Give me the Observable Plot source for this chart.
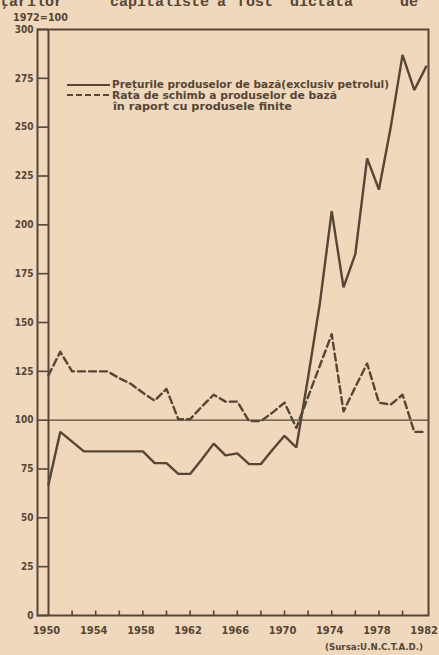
<!DOCTYPE html>
<html><head><meta charset="utf-8">
<script src="https://cdn.jsdelivr.net/npm/d3@7"></script>
<script src="https://cdn.jsdelivr.net/npm/@observablehq/plot@0.6"></script>
<style>
html,body{margin:0;padding:0;background:#efd8bb;}
#wrap{position:relative;width:439px;height:655px;overflow:hidden;background:#efd8bb;}
#wrap svg{display:block;}
#overlay{position:absolute;left:0;top:0;pointer-events:none;}
</style></head><body><div id="wrap"></div>
<script>
// ---- data ----
const years = [1950,1951,1952,1953,1954,1955,1956,1957,1958,1959,1960,1961,1962,1963,1964,1965,1966,1967,1968,1969,1970,1971,1972,1973,1974,1975,1976,1977,1978,1979,1980,1981,1982];
const preturi = [67,94,89,84,84,84,84,84,84,78,78,72.5,72.5,80,88,82,83,77.5,77.5,85,92,86,122,160,207,168,185,234,218,250,287,269,281];
const rata = [123,135,125,125,125,125,121.5,118.5,114,110,116,100.5,100.5,107,113,109.5,109.5,99.5,99.5,104,109,96,112,128,144,104.5,117,129,109,108,113,94,94];
const yTicks = [0,25,50,75,100,125,150,175,200,225,250,275,300];
const xLabelYears = [1950,1954,1958,1962,1966,1970,1974,1978,1982];
const xMinorYears = [1952,1954,1956,1958,1960,1962,1964,1966,1968,1970,1972,1974,1976,1978,1980];
const legendLabels = ["Prețurile produselor de bază(exclusiv petrolul)", "Rata de schimb a produselor de bază", "în raport cu produsele finite"];
const unitLabel = "1972=100";
const sourceLabel = "(Sursa:U.N.C.T.A.D.)";
const headerWords = ["ţărilor","capitaliste","a","fost","dictată","de"];
const xDomain = [1949.07, 1982.2];
const yDomain = [0, 300];
const baseValue = 100;
const baseYear = 1950;

// ---- chart ----
const ink = "#554636";
const font = "'DejaVu Sans Condensed','DejaVu Sans',sans-serif";
const rows = years.map((y, i) => ({year: y, preturi: preturi[i], rata: rata[i]}));

const chart = Plot.plot({
  width: 439, height: 655,
  marginLeft: 37, marginRight: 11, marginTop: 29, marginBottom: 40,
  style: {background: "transparent", color: ink, fontFamily: font, fontSize: "11px", fontWeight: "bold"},
  x: {domain: xDomain, label: null},
  y: {domain: yDomain, label: null},
  marks: [
    Plot.frame({stroke: ink, strokeWidth: 2}),
    Plot.ruleX([baseYear], {stroke: ink, strokeWidth: 2}),
    Plot.ruleY(yTicks, {x1: xDomain[0], x2: baseYear, stroke: ink, strokeWidth: 1.6}),
    Plot.ruleX(xMinorYears, {y1: 0, y2: 2.3, stroke: ink, strokeWidth: 1.6}),
    Plot.ruleY([baseValue], {x1: baseYear, x2: xDomain[1], stroke: ink, strokeWidth: 1.2}),
    Plot.line(rows, {x: "year", y: "preturi", stroke: ink, strokeWidth: 2.4, strokeLinejoin: "miter"}),
    Plot.line(rows, {x: "year", y: "rata", stroke: ink, strokeWidth: 2.4, strokeDasharray: "7,4"}),
    Plot.axisY(yTicks, {tickSize: 0, tickPadding: 4, fontSize: 10, fontWeight: "bold", fill: ink, label: null}),
    Plot.axisX(xLabelYears, {tickSize: 0, tickPadding: 11, dx: -2, tickFormat: d => String(d), fontSize: 11, fontWeight: "bold", fill: ink, label: null})
  ]
});
const wrap = document.getElementById("wrap");
wrap.appendChild(chart);

// ---- overlay texts (unit label, legend, source, clipped header) ----
const ns = "http://www.w3.org/2000/svg";
const ov = document.createElementNS(ns, "svg");
ov.setAttribute("id", "overlay");
ov.setAttribute("width", 439);
ov.setAttribute("height", 655);
wrap.appendChild(ov);
function txt(s, x, y, size, len, fam, weight) {
  const t = document.createElementNS(ns, "text");
  t.setAttribute("x", x); t.setAttribute("y", y);
  t.setAttribute("fill", ink);
  t.setAttribute("font-family", fam || font);
  t.setAttribute("font-size", size);
  t.setAttribute("font-weight", weight || "bold");
  if (len) { t.setAttribute("textLength", len); t.setAttribute("lengthAdjust", "spacingAndGlyphs"); }
  t.textContent = s;
  ov.appendChild(t);
}
function seg(x1, x2, y, dash) {
  const l = document.createElementNS(ns, "line");
  l.setAttribute("x1", x1); l.setAttribute("x2", x2);
  l.setAttribute("y1", y); l.setAttribute("y2", y);
  l.setAttribute("stroke", ink); l.setAttribute("stroke-width", 2);
  if (dash) l.setAttribute("stroke-dasharray", dash);
  ov.appendChild(l);
}
txt(unitLabel, 13, 21, 10.5, 55);
seg(67, 110, 85);
seg(67, 110, 95, "6,3");
txt(legendLabels[0], 112, 88, 10.5, 277);
txt(legendLabels[1], 112, 98.5, 10.5, 225);
txt(legendLabels[2], 113, 109.5, 10.5, 179);
txt(sourceLabel, 325, 650, 9, 98);
const hx = [0, 110, 217, 237, 290, 400];
headerWords.forEach((w, i) => txt(w, hx[i], 6, 15, null, "'Liberation Mono','DejaVu Sans Mono',monospace", "bold"));
</script>
</body></html>
